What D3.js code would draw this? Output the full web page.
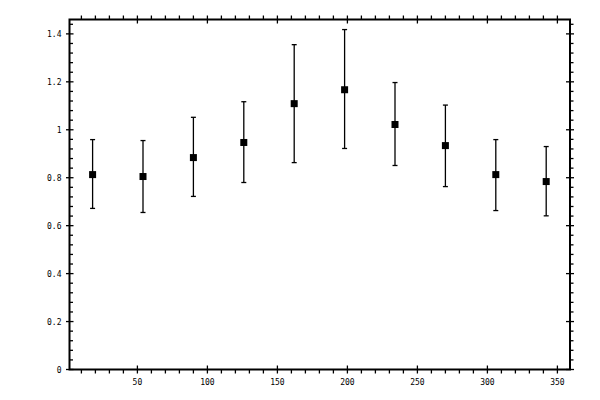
<!DOCTYPE html>
<html>
<head>
<meta charset="utf-8">
<script src="https://cdn.jsdelivr.net/npm/d3@7"></script>
<style>
  body { margin: 0; background: #fff; }
  svg { display: block; }
  text { font-family: "DejaVu Sans Mono", monospace; font-size: 8px; fill: #000; }
</style>
</head>
<body>
<svg id="chart" width="600" height="400"></svg>
<script>
// bin centres (x) and measured values with error limits
const angles = [18, 54, 90, 126, 162, 198, 234, 270, 306, 342];
const values = [0.813, 0.805, 0.884, 0.947, 1.109, 1.167, 1.022, 0.934, 0.813, 0.784];
const upper  = [0.959, 0.955, 1.052, 1.117, 1.355, 1.418, 1.197, 1.103, 0.959, 0.930];
const lower  = [0.672, 0.655, 0.722, 0.780, 0.863, 0.922, 0.851, 0.763, 0.663, 0.641];

const xMajor = [50, 100, 150, 200, 250, 300, 350];
const xMinor = d3.range(10, 360, 10).filter(v => v % 50 !== 0);
const yMajor = [0, 0.2, 0.4, 0.6, 0.8, 1, 1.2, 1.4];
const yMinor = d3.range(1, 37).map(i => i * 0.04).filter((v, i) => (i + 1) % 5 !== 0);

const svg = d3.select("#chart");

let x = d3.scaleLinear().domain([1.5, 359]).range([69.5, 570]);
let y = d3.scaleLinear().domain([0, 1.46]).range([369.5, 19.5]);

const xL = x.range()[0], xR = x.range()[1];
const yT = y.range()[1], yB = y.range()[0];

let pts = angles.map((a, i) => ({a: a, v: values[i], hi: upper[i], lo: lower[i]}));

// frame
svg.append("rect")
   .attr("x", xL).attr("y", yT)
   .attr("width", xR - xL).attr("height", yB - yT)
   .attr("fill", "none").attr("stroke", "#000").attr("stroke-width", 2);

let ticks = svg.append("g").attr("stroke", "#000").attr("stroke-width", 1.3);

// x minor: outward on bottom and top
ticks.selectAll(".xmb").data(xMinor).enter().append("line")
     .attr("x1", d => x(d)).attr("x2", d => x(d))
     .attr("y1", yB).attr("y2", yB + 4);
ticks.selectAll(".xmt").data(xMinor).enter().append("line")
     .attr("x1", d => x(d)).attr("x2", d => x(d))
     .attr("y1", yT).attr("y2", yT - 4);

// x major: across the axis
ticks.selectAll(".xMb").data(xMajor).enter().append("line")
     .attr("x1", d => x(d)).attr("x2", d => x(d))
     .attr("y1", yB - 4).attr("y2", yB + 4);
ticks.selectAll(".xMt").data(xMajor).enter().append("line")
     .attr("x1", d => x(d)).attr("x2", d => x(d))
     .attr("y1", yT - 4).attr("y2", yT + 4);

// y minor: inward on the left, outward on the right
ticks.selectAll(".yml").data(yMinor).enter().append("line")
     .attr("x1", xL).attr("x2", xL + 3.5)
     .attr("y1", d => y(d)).attr("y2", d => y(d));
ticks.selectAll(".ymr").data(yMinor).enter().append("line")
     .attr("x1", xR).attr("x2", xR + 3.5)
     .attr("y1", d => y(d)).attr("y2", d => y(d));

// y major
ticks.selectAll(".yMl").data(yMajor).enter().append("line")
     .attr("x1", xL - 3.5).attr("x2", xL + 4)
     .attr("y1", d => y(d)).attr("y2", d => y(d));
ticks.selectAll(".yMr").data(yMajor).enter().append("line")
     .attr("x1", xR - 4).attr("x2", xR + 4)
     .attr("y1", d => y(d)).attr("y2", d => y(d));

// labels
svg.append("g").selectAll("text").data(xMajor).enter().append("text")
   .attr("x", d => x(d)).attr("y", yB + 15)
   .attr("text-anchor", "middle")
   .text(d => d);

svg.append("g").selectAll("text").data(yMajor).enter().append("text")
   .attr("x", xL - 8).attr("y", d => y(d) + 3)
   .attr("text-anchor", "end")
   .text(d => d3.format("")(+d.toFixed(1)));

// error bars
let bars = svg.append("g").attr("stroke", "#000").attr("stroke-width", 1.3);
bars.selectAll(".v").data(pts).enter().append("line")
    .attr("x1", d => x(d.a)).attr("x2", d => x(d.a))
    .attr("y1", d => y(d.hi)).attr("y2", d => y(d.lo));
bars.selectAll(".ch").data(pts).enter().append("line")
    .attr("x1", d => x(d.a) - 2.5).attr("x2", d => x(d.a) + 2.5)
    .attr("y1", d => y(d.hi)).attr("y2", d => y(d.hi));
bars.selectAll(".cl").data(pts).enter().append("line")
    .attr("x1", d => x(d.a) - 2.5).attr("x2", d => x(d.a) + 2.5)
    .attr("y1", d => y(d.lo)).attr("y2", d => y(d.lo));

// markers
svg.append("g").selectAll("rect").data(pts).enter().append("rect")
   .attr("x", d => x(d.a) - 3.5).attr("y", d => y(d.v) - 3.5)
   .attr("width", 7).attr("height", 7)
   .attr("fill", "#000");
</script>
</body>
</html>
